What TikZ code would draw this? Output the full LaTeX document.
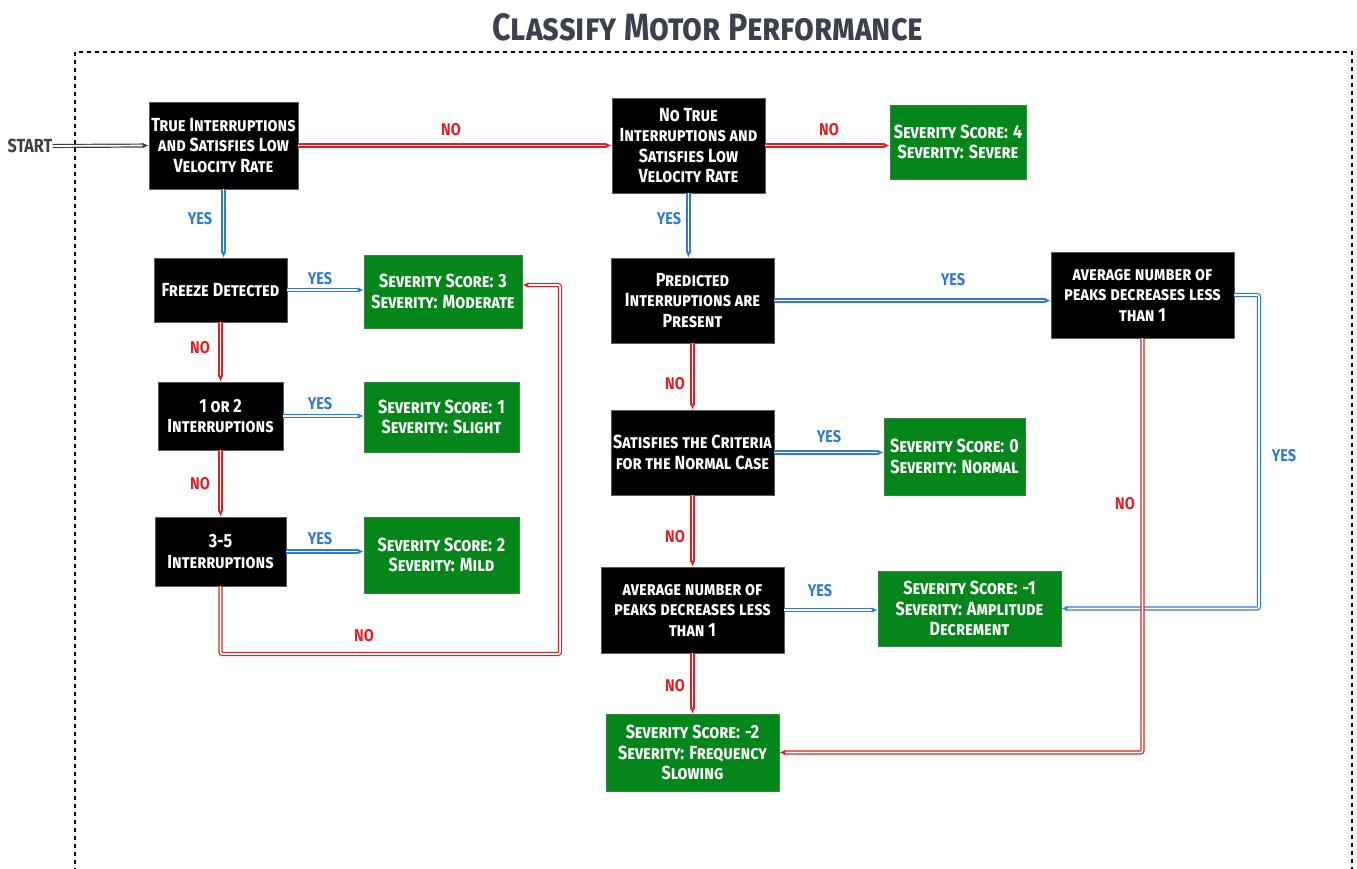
\documentclass[tikz,border=0pt]{standalone}
\usepackage{fontspec}
\usetikzlibrary{arrows.meta}
\newfontfamily\dfont{Fira Sans}[FakeStretch=0.85]
\definecolor{nored}{HTML}{E02020}
\definecolor{yesblue}{HTML}{2E7AD8}
\definecolor{sevgreen}{HTML}{05861A}
\definecolor{ink}{HTML}{3B414D}
\tikzset{
  base/.style={rectangle, inner sep=2pt, align=center, text=white,
    font=\dfont\bfseries\scshape\fontsize{19}{20.5}\selectfont},
  dark/.style={base, fill=black, draw=black!65, line width=0.6pt},
  sev/.style={base, fill=sevgreen, draw=sevgreen!60!gray, line width=0.6pt},
  conn/.style={double distance=1.7pt, line width=1.2pt, double=white,
    rounded corners=2pt, -{Latex[length=6pt,width=5.5pt]}},
  yes/.style={conn, draw=yesblue},
  no/.style={conn, draw=nored},
  startarrow/.style={conn, draw=ink},
  lbl/.style={font=\dfont\bfseries\fontsize{17}{17}\selectfont, inner sep=0pt},
  ylbl/.style={lbl, text=yesblue},
  nlbl/.style={lbl, text=nored},
  frame/.style={draw=black, line width=1.1pt, dash pattern=on 4pt off 4pt}
}
\begin{document}
\begin{tikzpicture}[x=1pt, y=-1pt]
\useasboundingbox (0,0) rectangle (1357,868);
\draw[frame] (75,880) -- (75,52) -- (1352,52) -- (1352,880);
\node[font=\dfont\bfseries\scshape\fontsize{38}{40}\selectfont, text=ink] (title) at (708,27) {Classify Motor Performance};
\node[lbl, text=ink, font=\dfont\bfseries\fontsize{19}{19}\selectfont] (start) at (30,146) {START};
% decision boxes
\node[dark, minimum width=149, minimum height=87] (A) at (223.5,145.5) {True Interruptions\\and Satisfies Low\\Velocity Rate};
\node[dark, minimum width=153, minimum height=95] (B) at (688.5,145.5) {No True\\Interruptions and\\Satisfies Low\\Velocity Rate};
\node[dark, minimum width=133, minimum height=64] (F) at (220.5,290) {Freeze Detected};
\node[dark, minimum width=163, minimum height=85] (P) at (692.5,300.5) {Predicted\\Interruptions are\\Present};
\node[dark, minimum width=183, minimum height=86] (Q) at (1142.5,295) {average number of\\peaks decreases less\\than 1};
\node[dark, minimum width=125, minimum height=68] (I12) at (220.5,416) {1 or 2\\Interruptions};
\node[dark, minimum width=163, minimum height=85] (N) at (692.5,452.5) {Satisfies the Criteria\\for the Normal Case};
\node[dark, minimum width=131, minimum height=69] (I35) at (220.5,551.5) {3-5\\Interruptions};
\node[dark, minimum width=183, minimum height=86] (Q2) at (692.5,610) {average number of\\peaks decreases less\\than 1};
% severity boxes
\node[sev, minimum width=136, minimum height=74] (S4) at (958,142) {Severity Score: 4\\Severity: Severe};
\node[sev, minimum width=158, minimum height=73] (S3) at (443,291.5) {Severity Score: 3\\Severity: Moderate};
\node[sev, minimum width=155, minimum height=70] (S1) at (441.5,417) {Severity Score: 1\\Severity: Slight};
\node[sev, minimum width=141, minimum height=77] (S0) at (954.5,456.5) {Severity Score: 0\\Severity: Normal};
\node[sev, minimum width=155, minimum height=76] (S2) at (441.5,555) {Severity Score: 2\\Severity: Mild};
\node[sev, minimum width=183, minimum height=75] (Sm1) at (969.5,608.5) {Severity Score: -1\\Severity: Amplitude\\Decrement};
\node[sev, minimum width=173, minimum height=77] (Sm2) at (692.5,752.5) {Severity Score: -2\\Severity: Frequency\\Slowing};
% helper coordinates
\coordinate (loopL) at (560,654);
\coordinate (S3in) at ([yshift=6.5pt]S3.east);
\coordinate (loopR) at (1259,0);
% connectors
\draw[startarrow] (start.east) -- (A.west);
\draw[no] (A.east) -- (B.west);
\draw[no] (B.east) -- (B.east -| S4.west);
\draw[yes] (A.south) -- (A.south |- F.north);
\draw[yes] (F.east) -- (F.east -| S3.west);
\draw[no] (F.south) -- (I12.north);
\draw[yes] (I12.east) -- (I12.east -| S1.west);
\draw[no] (I12.south) -- (I35.north);
\draw[yes] (I35.east) -- (I35.east -| S2.west);
\draw[no] (I35.south) -- (I35.south |- loopL) -- (loopL) -- (loopL |- S3in) -- (S3in);
\draw[yes] (B.south) -- (B.south |- P.north);
\draw[yes] (P.east) -- (P.east -| Q.west);
\draw[no] (P.south) -- (N.north);
\draw[yes] (N.east) -- (N.east -| S0.west);
\draw[no] (N.south) -- (Q2.north);
\draw[yes] (Q2.east) -- (Q2.east -| Sm1.west);
\draw[no] (Q2.south) -- (Sm2.north);
\draw[yes] (Q.east) -- (Q.east -| loopR) -- (loopR |- Sm1.east) -- (Sm1.east);
\draw[no] (Q.south) -- (Q.south |- Sm2.east) -- (Sm2.east);
% labels
\node[nlbl] (l1) at (451,130) {NO};
\node[nlbl] (l2) at (829,130) {NO};
\node[ylbl] (l3) at (200,219) {YES};
\node[ylbl] (l4) at (320,279) {YES};
\node[nlbl] (l5) at (200,348) {NO};
\node[ylbl] (l6) at (320,404) {YES};
\node[nlbl] (l7) at (200,484) {NO};
\node[ylbl] (l8) at (320,539) {YES};
\node[nlbl] (l9) at (364,636) {NO};
\node[ylbl] (l10) at (669,219) {YES};
\node[ylbl] (l11) at (953,280) {YES};
\node[nlbl] (l12) at (675,384) {NO};
\node[ylbl] (l13) at (829,437) {YES};
\node[nlbl] (l14) at (675,537) {NO};
\node[ylbl] (l15) at (820,591) {YES};
\node[nlbl] (l16) at (675,686) {NO};
\node[ylbl] (l17) at (1284,456) {YES};
\node[nlbl] (l18) at (1125,504) {NO};
\end{tikzpicture}
\end{document}
